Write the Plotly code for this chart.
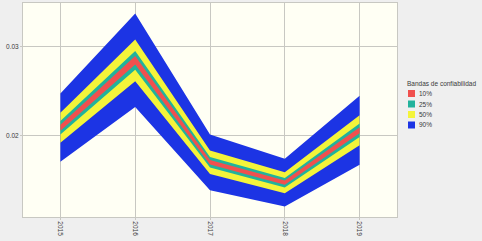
import plotly.graph_objects as go

years = [2015, 2016, 2017, 2018, 2019]

lower_90 = [0.01705, 0.02322, 0.01386, 0.01200, 0.01671]
upper_90 = [0.02475, 0.03378, 0.02014, 0.01740, 0.02449]
lower_50 = [0.01921, 0.02615, 0.01568, 0.01352, 0.01891]
upper_50 = [0.02259, 0.03085, 0.01832, 0.01588, 0.02229]
lower_25 = [0.02014, 0.02744, 0.01641, 0.01417, 0.01984]
upper_25 = [0.02166, 0.02956, 0.01759, 0.01523, 0.02136]
lower_10 = [0.02056, 0.02803, 0.01674, 0.01446, 0.02026]
upper_10 = [0.02124, 0.02897, 0.01726, 0.01494, 0.02094]

band_names = ["90%", "50%", "25%", "10%"]
band_colors = ["#1c34e4", "#f4f43a", "#22b29c", "#f0504e"]
band_lowers = [lower_90, lower_50, lower_25, lower_10]
band_uppers = [upper_90, upper_50, upper_25, upper_10]

legend_title = "Bandas de confiabilidad"
y_ticks = [0.02, 0.03]

FONT = "Liberation Sans"
TXT = "#3a3a3a"

fig = go.Figure()
for name, color, lo, up in zip(band_names, band_colors, band_lowers, band_uppers):
    fig.add_trace(go.Scatter(
        x=years + years[::-1],
        y=up + lo[::-1],
        fill="toself",
        fillcolor=color,
        mode="none",
        name=name,
        showlegend=False,
        hoverinfo="skip",
    ))

# custom legend (small square swatches, tight rows)
W, H = 482, 241
ml, mr, mt, mb = 23, 85, 3, 24
pw, ph = W - ml - mr, H - mt - mb

def px_x(px):
    return (px - ml) / pw

def px_y(py):
    return (H - mb - py) / ph

fig.add_annotation(
    x=px_x(405), y=px_y(83), xref="paper", yref="paper",
    text=legend_title, showarrow=False, xanchor="left", yanchor="middle",
    font=dict(family=FONT, size=6.5, color=TXT),
)
legend_order = list(range(len(band_names)))[::-1]  # 10%, 25%, 50%, 90%
for row, i in enumerate(legend_order):
    cy = 93.5 + row * 10.5
    fig.add_shape(
        type="rect", xref="paper", yref="paper",
        x0=px_x(408), x1=px_x(415), y0=px_y(cy + 3.5), y1=px_y(cy - 3.5),
        fillcolor=band_colors[i], line=dict(width=0),
    )
    fig.add_annotation(
        x=px_x(417), y=px_y(cy), xref="paper", yref="paper",
        text=band_names[i], showarrow=False, xanchor="left", yanchor="middle",
        font=dict(family=FONT, size=6.5, color=TXT),
    )

fig.update_layout(
    width=W, height=H,
    margin=dict(l=ml, r=mr, t=mt, b=mb, autoexpand=False),
    paper_bgcolor="#efefef",
    plot_bgcolor="#fffff4",
    font=dict(family=FONT, size=6.5, color=TXT),
    showlegend=False,
)
fig.update_xaxes(
    range=[2014.5, 2019.5],
    tickvals=years, ticktext=[str(y) for y in years],
    tickangle=90,
    showgrid=True, gridcolor="#c8c8c2", gridwidth=1,
    showline=True, linecolor="#c8c8c2", mirror=True,
    zeroline=False,
    ticks="outside", ticklen=2, tickcolor="#c8c8c2",
    automargin=False,
)
fig.update_yaxes(
    range=[0.01083, 0.03496],
    tickvals=y_ticks, ticktext=[f"{v:.2f}" for v in y_ticks],
    showgrid=True, gridcolor="#c8c8c2", gridwidth=1,
    showline=True, linecolor="#c8c8c2", mirror=True,
    zeroline=False,
    ticks="outside", ticklen=2, tickcolor="#c8c8c2",
    automargin=False,
)

fig.write_html(
    "out.html",
    config={"displayModeBar": False},
    post_script="document.body.style.margin='0';document.body.style.padding='0';",
)
